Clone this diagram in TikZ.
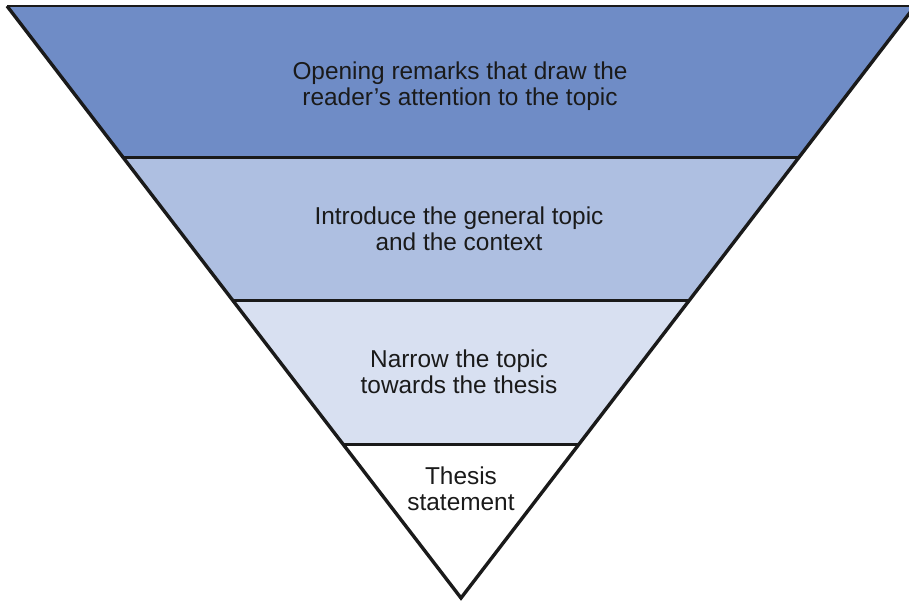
\documentclass[tikz,border=0pt]{standalone}
\usepackage{fontspec}
\setmainfont{Liberation Sans}
\usetikzlibrary{calc}
\definecolor{bandA}{HTML}{6F8CC6}
\definecolor{bandB}{HTML}{AEBFE1}
\definecolor{bandC}{HTML}{D8E0F1}
\definecolor{ink}{HTML}{1A1A1A}
\tikzset{
  edge/.style={draw=ink, line width=3.4pt, line join=miter},
  rule/.style={draw=ink, line width=3pt},
  label/.style={text=ink, align=center, font=\fontsize{24.4}{26.5}\selectfont}
}
\begin{document}
\begin{tikzpicture}[x=1pt, y=-1pt]
\useasboundingbox (0,0) rectangle (909,600);
% corner points of the inverted triangle and band boundaries
\coordinate (tl) at (7,6);
\coordinate (tr) at (915,6);
\coordinate (ap) at (461,598);
\coordinate (l1) at (122.8,157);
\coordinate (r1) at (799.2,157);
\coordinate (l2) at (232.5,300);
\coordinate (r2) at (689.5,300);
\coordinate (l3) at (343,444);
\coordinate (r3) at (579,444);
% band fills
\fill[bandA] (tl) -- (tr) -- (r1) -- (l1) -- cycle;
\fill[bandB] (l1) -- (r1) -- (r2) -- (l2) -- cycle;
\fill[bandC] (l2) -- (r2) -- (r3) -- (l3) -- cycle;
\fill[white] (l3) -- (r3) -- (ap) -- cycle;
% dividing rules
\draw[rule] (l1) -- (r1);
\draw[rule] (l2) -- (r2);
\draw[rule] (l3) -- (r3);
% outline
\draw[edge, line width=2.2pt] (tl) -- (tr);
\draw[edge] (tr) -- (ap) -- (tl);
% labels
\node[label] (t1) at (460,86) {Opening remarks that draw the\\reader’s attention to the topic};
\node[label] (t2) at (459,229) {Introduce the general topic\\and the context};
\node[label] (t3) at (459,372) {Narrow the topic\\towards the thesis};
\node[label] (t4) at (461,489) {Thesis\\statement};
\end{tikzpicture}
\end{document}
